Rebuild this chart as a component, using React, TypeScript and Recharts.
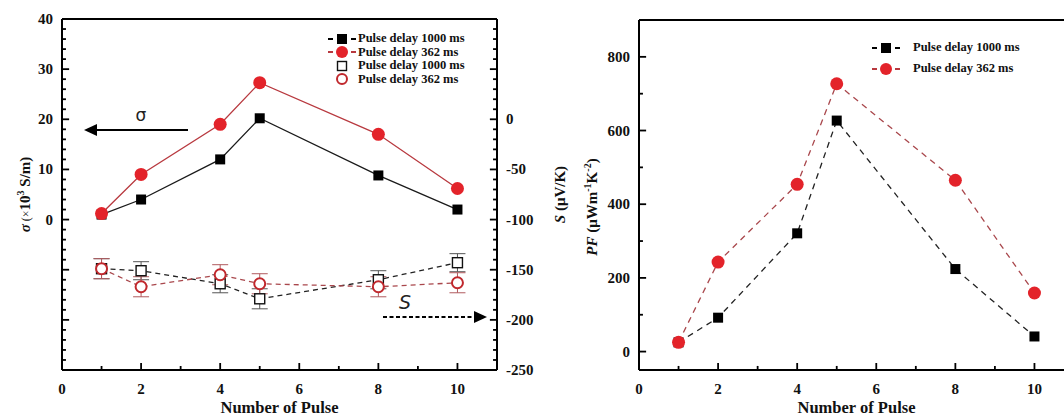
import React from "react";
import { ComposedChart, Line, XAxis, YAxis, ErrorBar, ReferenceLine } from "recharts";

// number of pulses (x positions shared by every series)
const pulses = [1, 2, 4, 5, 8, 10];

// left panel: conductivity (x10^3 S/m)
const sigma1000 = [1.0, 4.0, 12.0, 20.2, 8.8, 2.0];
const sigma362 = [1.2, 9.0, 19.0, 27.3, 17.0, 6.2];

// left panel: Seebeck coefficient (uV/K) with error
const seebeck1000 = [-149, -151, -164, -179, -160, -143];
const seebeck1000Err = [10, 9, 9, 10, 9, 9];
const seebeck362 = [-149, -167, -155, -164, -167, -163];
const seebeck362Err = [10, 10, 10, 10, 10, 10];

// right panel: power factor (uW m^-1 K^-2)
const pf1000 = [25, 92, 321, 627, 224, 41];
const pf362 = [25, 243, 454, 727, 465, 159];

// ticks: majors carry labels, minors are short marks only
const xMajor = [0, 2, 4, 6, 8, 10];
const xMinor = [1, 3, 5, 7, 9];
const sigmaMajor = [-20, -10, 0, 10, 20, 30, 40];
const sigmaMinor = [-28, -26, -24, -22, -18, -16, -14, -12, -8, -6, -4, -2, 2, 4, 6, 8, 12, 14, 16, 18, 22, 24, 26, 28, 32, 34, 36, 38];
const seebeckMajor = [-250, -200, -150, -100, -50, 0, 50, 100];
const seebeckMinor = [-240, -230, -220, -210, -190, -180, -170, -160, -140, -130, -120, -110, -90, -80, -70, -60, -40, -30, -20, -10, 10, 20, 30, 40, 60, 70, 80, 90];
const pfMajor = [0, 200, 400, 600, 800];
const pfMinor = [100, 300, 500, 700, 900];

const leftData = pulses.map((p, i) => ({
  pulse: p,
  s1000: sigma1000[i],
  s362: sigma362[i],
  sb1000: seebeck1000[i],
  sb1000Err: seebeck1000Err[i],
  sb362: seebeck362[i],
  sb362Err: seebeck362Err[i],
}));

const rightData = pulses.map((p, i) => ({ pulse: p, pf1000: pf1000[i], pf362: pf362[i] }));

const serif = "'Liberation Serif', 'Times New Roman', serif";
const RED = "#e3232a";
const RED_LINE = "#b8393f";
const RED_DASH = "#a9474c";
const axisStroke = { stroke: "#000", strokeWidth: 2 };

// inward tick marks drawn as short reference segments (lengths in data units)
const xMarks = (axisId: string, base: number, major: number, minor: number) => [
  ...xMajor.map((v) => (
    <ReferenceLine key={`xM${v}`} yAxisId={axisId} segment={[{ x: v, y: base }, { x: v, y: base + major }]} stroke="#000" strokeWidth={1.8} />
  )),
  ...xMinor.map((v) => (
    <ReferenceLine key={`xm${v}`} yAxisId={axisId} segment={[{ x: v, y: base }, { x: v, y: base + minor }]} stroke="#000" strokeWidth={1.8} />
  )),
];

const yMarks = (axisId: string, majors: number[], minors: number[], edge: number, dir: number) => [
  ...majors.map((v) => (
    <ReferenceLine key={`${axisId}M${v}`} yAxisId={axisId} segment={[{ x: edge, y: v }, { x: edge + dir * 0.18, y: v }]} stroke="#000" strokeWidth={1.8} />
  )),
  ...minors.map((v) => (
    <ReferenceLine key={`${axisId}m${v}`} yAxisId={axisId} segment={[{ x: edge, y: v }, { x: edge + dir * 0.1, y: v }]} stroke="#000" strokeWidth={1.8} />
  )),
];

const XLabel = (props: any) => {
  const x = Number(props.x);
  const y = Number(props.y);
  const v = props.payload.value;
  return (
    <text x={x} y={y + 24} textAnchor="middle" fontFamily={serif} fontWeight="bold" fontSize={15} fill="#111">
      {v}
    </text>
  );
};

const makeYLabel = (side: "left" | "right", hasLabel: (v: number) => boolean) => (props: any) => {
  const x = Number(props.x);
  const y = Number(props.y);
  const v = props.payload.value;
  if (!hasLabel(v)) return <g />;
  return (
    <text x={side === "left" ? x - 9 : x + 9} y={y} dy={5} textAnchor={side === "left" ? "end" : "start"}
      fontFamily={serif} fontWeight="bold" fontSize={15} fill="#111">
      {v}
    </text>
  );
};

const SigmaLabel = makeYLabel("left", (v) => v >= 0);
const SeebeckLabel = makeYLabel("right", (v) => v <= 0);
const PfLabel = makeYLabel("left", (v) => v <= 800);

const XTitle = (props: any) => {
  const vb = props.viewBox || {};
  return (
    <text x={vb.x + vb.width / 2} y={vb.y + vb.height - 6} textAnchor="middle"
      fontFamily={serif} fontWeight="bold" fontSize={16.5} fill="#111">
      Number of Pulse
    </text>
  );
};

const SigmaTitle = (props: any) => {
  const vb = props.viewBox || {};
  const cx = vb.x + 25;
  const cy = vb.y + vb.height / 2;
  return (
    <text x={cx} y={cy} transform={`rotate(-90 ${cx} ${cy})`} textAnchor="middle" dy={5}
      fontFamily={serif} fontWeight="bold" fontSize={15} fill="#111">
      <tspan fontStyle="italic">σ</tspan>
      <tspan fontWeight="normal" fontSize={12}> (×</tspan>
      <tspan>10</tspan>
      <tspan fontSize={10} dy={-6}>3</tspan>
      <tspan dy={6}> S/m)</tspan>
    </text>
  );
};

const SeebeckTitle = (props: any) => {
  const vb = props.viewBox || {};
  const cx = vb.x + 63;
  const cy = vb.y + vb.height / 2;
  return (
    <text x={cx} y={cy} transform={`rotate(-90 ${cx} ${cy})`} textAnchor="middle" dy={5}
      fontFamily={serif} fontWeight="bold" fontSize={15} fill="#111">
      <tspan fontStyle="italic">S</tspan>
      <tspan> (μV/K)</tspan>
    </text>
  );
};

const PfTitle = (props: any) => {
  const vb = props.viewBox || {};
  const cx = vb.x + 12;
  const cy = vb.y + vb.height / 2 + 12;
  return (
    <text x={cx} y={cy} transform={`rotate(-90 ${cx} ${cy})`} textAnchor="middle" dy={5}
      fontFamily={serif} fontWeight="bold" fontSize={15} fill="#111">
      <tspan fontStyle="italic">PF</tspan>
      <tspan> (μWm</tspan>
      <tspan fontSize={10} dy={-6}>-1</tspan>
      <tspan dy={6}>K</tspan>
      <tspan fontSize={10} dy={-6}>-2</tspan>
      <tspan dy={6}>)</tspan>
    </text>
  );
};

const FilledSquare = (props: any) => {
  const { cx, cy } = props;
  if (cx == null || cy == null) return <g />;
  return <rect x={cx - 5} y={cy - 5} width={10} height={10} fill="#000" />;
};
const FilledCircle = (props: any) => {
  const { cx, cy } = props;
  if (cx == null || cy == null) return <g />;
  return <circle cx={cx} cy={cy} r={6.5} fill={RED} />;
};
const OpenSquare = (props: any) => {
  const { cx, cy } = props;
  if (cx == null || cy == null) return <g />;
  return <rect x={cx - 5} y={cy - 5} width={10} height={10} fill="#fff" stroke="#111" strokeWidth={1.4} />;
};
const OpenCircle = (props: any) => {
  const { cx, cy } = props;
  if (cx == null || cy == null) return <g />;
  return <circle cx={cx} cy={cy} r={5.5} fill="#fff" stroke="#c0282d" strokeWidth={2} />;
};

const LegendSymbol = ({ kind, dashColor }: { kind: string; dashColor?: string }) => (
  <svg width={30} height={14} style={{ display: "block" }}>
    {dashColor && (
      <>
        <line x1={1} x2={6} y1={7} y2={7} stroke={dashColor} strokeWidth={2} />
        <line x1={24} x2={29} y1={7} y2={7} stroke={dashColor} strokeWidth={2} />
      </>
    )}
    {kind === "fs" && <rect x={10} y={2} width={10} height={10} fill="#000" />}
    {kind === "fc" && <circle cx={15} cy={7} r={6} fill={RED} />}
    {kind === "os" && <rect x={10.5} y={2.5} width={9} height={9} fill="#fff" stroke="#111" strokeWidth={1.4} />}
    {kind === "oc" && <circle cx={15} cy={7} r={5} fill="#fff" stroke="#c0282d" strokeWidth={2} />}
  </svg>
);

const legendRow = (kind: string, label: string, dashColor: string | undefined, gap: number) => (
  <div key={kind} style={{ display: "flex", alignItems: "center", height: 13.5 }}>
    <LegendSymbol kind={kind} dashColor={dashColor} />
    <span style={{ marginLeft: gap, whiteSpace: "nowrap" }}>{label}</span>
  </div>
);

export default function App() {
  return (
    <div style={{ position: "fixed", left: 0, top: 0, width: 1064, height: 419, overflow: "hidden", background: "#fff" }}>
      {/* left panel */}
      <div style={{ position: "absolute", left: 0, top: 0 }}>
        <ComposedChart width={580} height={419} data={leftData} margin={{ top: 19, right: 0, bottom: 0, left: 0 }}>
          <XAxis dataKey="pulse" type="number" domain={[0, 11]} ticks={xMajor} interval={0}
            tick={<XLabel />} tickLine={false} tickSize={0} tickMargin={0} height={49}
            axisLine={axisStroke} label={<XTitle />} />
          <YAxis yAxisId="sigma" type="number" domain={[-30, 40]} ticks={sigmaMajor} interval={0}
            tick={<SigmaLabel />} tickLine={false} tickSize={0} tickMargin={0} width={62}
            axisLine={axisStroke} label={<SigmaTitle />} />
          <YAxis yAxisId="seebeck" orientation="right" type="number" domain={[-250, 100]} ticks={seebeckMajor} interval={0}
            tick={<SeebeckLabel />} tickLine={false} tickSize={0} tickMargin={0} width={83}
            axisLine={axisStroke} label={<SeebeckTitle />} />
          <ReferenceLine yAxisId="sigma" y={40} stroke="#000" strokeWidth={2} />
          {xMarks("sigma", -30, 1.4, 0.8)}
          {yMarks("sigma", sigmaMajor, sigmaMinor, 0, 1)}
          {yMarks("seebeck", seebeckMajor.filter((v) => v > -250 && v < 100), seebeckMinor, 11, -1)}
          <Line yAxisId="seebeck" dataKey="sb1000" stroke="#222" strokeWidth={1.3} strokeDasharray="5 4"
            dot={<OpenSquare />} isAnimationActive={false}>
            <ErrorBar dataKey="sb1000Err" direction="y" width={8} stroke="#555" strokeWidth={1} />
          </Line>
          <Line yAxisId="seebeck" dataKey="sb362" stroke={RED_DASH} strokeWidth={1.3} strokeDasharray="5 4"
            dot={<OpenCircle />} isAnimationActive={false}>
            <ErrorBar dataKey="sb362Err" direction="y" width={8} stroke="#b05a5e" strokeWidth={1} />
          </Line>
          <Line yAxisId="sigma" dataKey="s1000" stroke="#1a1a1a" strokeWidth={1.3}
            dot={<FilledSquare />} isAnimationActive={false} />
          <Line yAxisId="sigma" dataKey="s362" stroke={RED_LINE} strokeWidth={1.3}
            dot={<FilledCircle />} isAnimationActive={false} />
        </ComposedChart>

        {/* direction arrows */}
        <svg width={580} height={419} style={{ position: "absolute", left: 0, top: 0, pointerEvents: "none" }}>
          <line x1={188} x2={95} y1={130} y2={130} stroke="#000" strokeWidth={2} />
          <polygon points="84,130 97,124 97,136" fill="#000" />
          <text x={141} y={121} textAnchor="middle" fontFamily="'DejaVu Sans', sans-serif" fontSize={17} fill="#222">σ</text>
          <line x1={383} x2={474} y1={317} y2={317} stroke="#000" strokeWidth={2} strokeDasharray="4 2.5" />
          <polygon points="487,317 474,311 474,323" fill="#000" />
          <text x={405} y={309} textAnchor="middle" fontFamily="'DejaVu Sans', sans-serif" fontStyle="italic" fontSize={19} fill="#222">S</text>
        </svg>

        <div style={{ position: "absolute", left: 327, top: 32, fontFamily: serif, fontWeight: "bold", fontSize: 12.5, color: "#111" }}>
          {legendRow("fs", "Pulse delay 1000 ms", "#000", 1)}
          {legendRow("fc", "Pulse delay 362 ms", RED_LINE, 1)}
          {legendRow("os", "Pulse delay 1000 ms", undefined, 1)}
          {legendRow("oc", "Pulse delay 362 ms", undefined, 1)}
        </div>
      </div>

      {/* right panel */}
      <div style={{ position: "absolute", left: 580, top: 0 }}>
        <ComposedChart width={494} height={419} data={rightData} margin={{ top: 20, right: 0, bottom: 0, left: 0 }}>
          <XAxis dataKey="pulse" type="number" domain={[0, 11]} ticks={xMajor} interval={0}
            tick={<XLabel />} tickLine={false} tickSize={0} tickMargin={0} height={49}
            axisLine={axisStroke} label={<XTitle />} />
          <YAxis yAxisId="pf" type="number" domain={[-50, 900]} ticks={pfMajor} interval={0}
            tick={<PfLabel />} tickLine={false} tickSize={0} tickMargin={0} width={59}
            axisLine={axisStroke} label={<PfTitle />} />
          <ReferenceLine yAxisId="pf" y={900} stroke="#000" strokeWidth={2} />
          {xMarks("pf", -50, 19, 11)}
          {yMarks("pf", pfMajor, pfMinor, 0, 1)}
          <Line yAxisId="pf" dataKey="pf1000" stroke="#222" strokeWidth={1.3} strokeDasharray="6 5"
            dot={<FilledSquare />} isAnimationActive={false} />
          <Line yAxisId="pf" dataKey="pf362" stroke={RED_DASH} strokeWidth={1.3} strokeDasharray="6 5"
            dot={<FilledCircle />} isAnimationActive={false} />
        </ComposedChart>

        <div style={{ position: "absolute", left: 291, top: 37, fontFamily: serif, fontWeight: "bold", fontSize: 12.5, color: "#111" }}>
          <div style={{ display: "flex", alignItems: "center", height: 21 }}>
            <LegendSymbol kind="fs" dashColor="#000" />
            <span style={{ marginLeft: 12, whiteSpace: "nowrap" }}>Pulse delay 1000 ms</span>
          </div>
          <div style={{ display: "flex", alignItems: "center", height: 21 }}>
            <LegendSymbol kind="fc" dashColor={RED_LINE} />
            <span style={{ marginLeft: 12, whiteSpace: "nowrap" }}>Pulse delay 362 ms</span>
          </div>
        </div>
      </div>
    </div>
  );
}
